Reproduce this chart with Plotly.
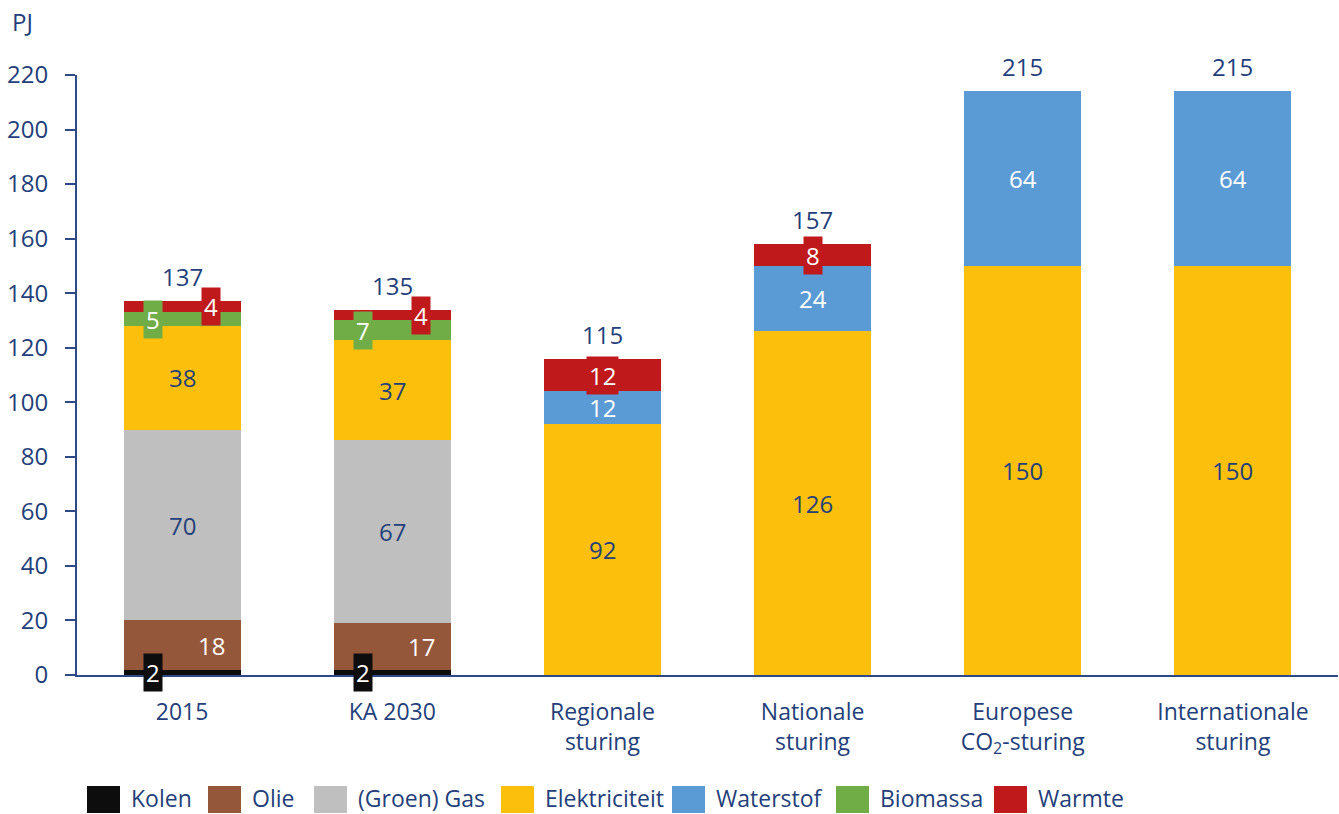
import plotly.graph_objects as go

# Energy demand per scenario (PJ), stacked by carrier
categories = ["2015", "KA 2030", "Regionale<br>sturing", "Nationale<br>sturing",
              "Europese<br>CO<sub>2</sub>-sturing", "Internationale<br>sturing"]
kolen = [2, 2, 0, 0, 0, 0]
olie = [18, 17, 0, 0, 0, 0]
gas = [70, 67, 0, 0, 0, 0]
elektriciteit = [38, 37, 92, 126, 150, 150]
waterstof = [0, 0, 12, 24, 64, 64]
biomassa = [5, 7, 0, 0, 0, 0]
warmte = [4, 4, 12, 8, 0, 0]
totals = [137, 135, 115, 157, 215, 215]
y_ticks = [0, 20, 40, 60, 80, 100, 120, 140, 160, 180, 200, 220]

NAVY = "#243F7A"
FONT = "Open Sans"
FS = 24

series = [
    # name, values, fill colour, label colour, boxed label, label x-shift in detailed bars
    ("Kolen", kolen, "#0D0D0D", "white", True, -29),
    ("Olie", olie, "#95573A", "white", False, 29),
    ("(Groen) Gas", gas, "#BFBFBF", NAVY, False, 0),
    ("Elektriciteit", elektriciteit, "#FCC00C", NAVY, False, 0),
    ("Waterstof", waterstof, "#5B9BD5", "white", False, 0),
    ("Biomassa", biomassa, "#70AD47", "white", True, -29),
    ("Warmte", warmte, "#C0191C", "white", True, 29),
]

fig = go.Figure()
annotations = []
base = [0.0] * len(categories)
for name, vals, color, tcolor, boxed, shift in series:
    fig.add_trace(go.Bar(
        name=name, x=categories, y=vals, marker=dict(color=color, line=dict(width=0)),
        showlegend=False,
    ))
    for i, v in enumerate(vals):
        if v <= 0:
            continue
        detailed = kolen[i] > 0
        label = dict(
            x=i, y=base[i] + v / 2, text=str(v), showarrow=False,
            xref="x", yref="y", xshift=shift if detailed else 0,
            font=dict(family=FONT, size=FS, color=tcolor), borderpad=2,
        )
        if boxed or v < 10:
            label["bgcolor"] = color
        annotations.append(label)
        base[i] += v

# totals above each bar
for i, t in enumerate(totals):
    annotations.append(dict(
        x=i, y=base[i], text=str(t), showarrow=False, yanchor="bottom",
        yshift=6, font=dict(family=FONT, size=FS, color=NAVY),
    ))

# plot area in pixels
L, W, T, H = 77, 1261, 75, 600
def px_x(p):
    return (p - L) / W
def px_y(p):
    return (T + H - p) / H

# unit label
annotations.append(dict(
    x=px_x(10), y=px_y(22), xref="paper", yref="paper", text="PJ", showarrow=False,
    xanchor="left", yanchor="middle", font=dict(family=FONT, size=FS, color=NAVY),
))

# legend row drawn as swatches and labels
legend_x = [87, 208, 314, 501, 672, 836, 994]
shapes = []
for (name, vals, color, *_), lx in zip(series, legend_x):
    shapes.append(dict(type="rect", xref="paper", yref="paper",
                       x0=px_x(lx), x1=px_x(lx + 33), y0=px_y(786), y1=px_y(813),
                       fillcolor=color, line=dict(width=0)))
    annotations.append(dict(x=px_x(lx + 43), y=px_y(798), xref="paper", yref="paper",
                            text=name, showarrow=False, xanchor="left", yanchor="middle",
                            borderpad=0,
                            font=dict(family=FONT, size=FS - 1, color=NAVY)))

fig.update_layout(
    barmode="stack", bargap=0.443,
    width=1339, height=814,
    margin=dict(l=L, r=1339 - L - W, t=T, b=814 - T - H),
    paper_bgcolor="white", plot_bgcolor="white",
    annotations=annotations, shapes=shapes,
    font=dict(family=FONT, size=FS, color=NAVY),
)
fig.update_yaxes(
    range=[0, 220], tickvals=y_ticks, showgrid=False, zeroline=False,
    showline=True, linecolor="#2E4A86", linewidth=2,
    ticks="outside", ticklen=10, tickwidth=2, tickcolor="#2E4A86",
    ticklabelstandoff=12,
    tickfont=dict(family=FONT, size=FS, color=NAVY),
)
fig.update_xaxes(
    type="category", range=[-0.5, len(categories) - 0.5], autorange=False,
    showgrid=False, showline=True, linecolor="#2E4A86", linewidth=2,
    ticks="", ticklabelstandoff=15,
    tickfont=dict(family=FONT, size=FS - 1, color=NAVY),
)

fig.write_html("out.html")
